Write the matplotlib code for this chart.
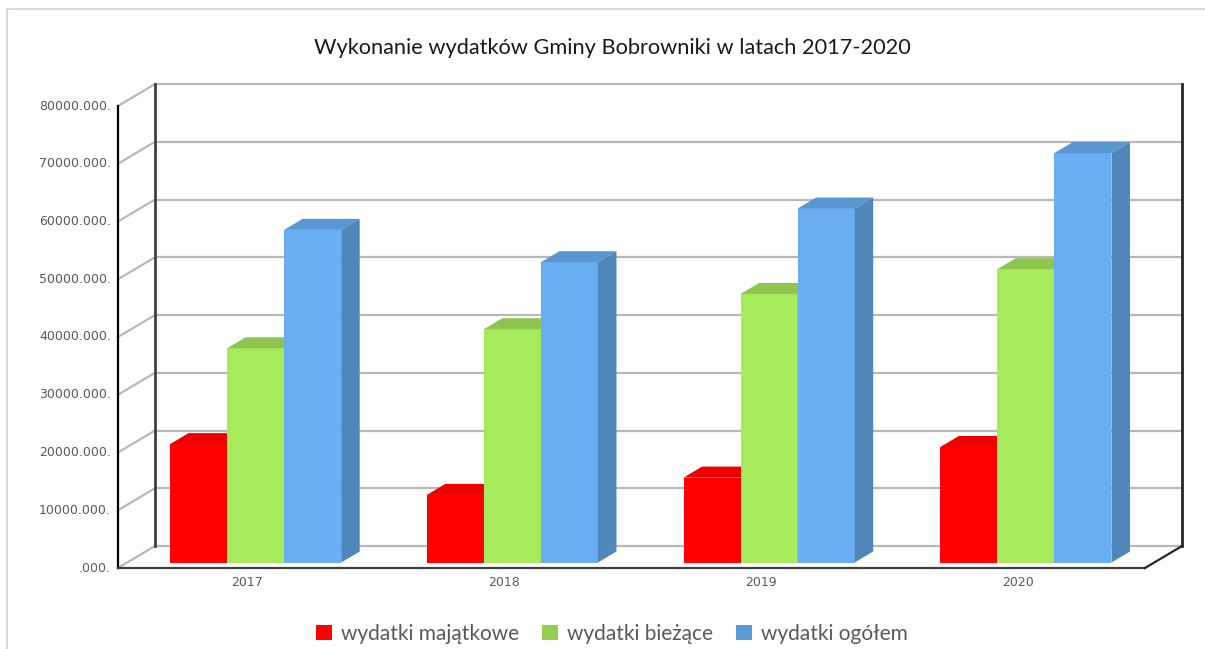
import matplotlib
matplotlib.use("Agg")
import matplotlib.pyplot as plt
from matplotlib.patches import Polygon, Patch
from matplotlib.lines import Line2D
from matplotlib.transforms import ScaledTranslation, IdentityTransform
import numpy as np

# ---------------- data ----------------
years = ["2017", "2018", "2019", "2020"]
series_names = ["wydatki majątkowe", "wydatki bieżące", "wydatki ogółem"]
wydatki_majatkowe = [20500000, 11700000, 14700000, 20000000]
wydatki_biezace = [37100000, 40400000, 46500000, 50800000]
wydatki_ogolem = [57600000, 52000000, 61300000, 70900000]
y_ticks = [0, 10000000, 20000000, 30000000, 40000000, 50000000, 60000000, 70000000, 80000000]
y_tick_labels = [".000.", "10000.000.", "20000.000.", "30000.000.", "40000.000.",
                 "50000.000.", "60000.000.", "70000.000.", "80000.000."]
title = "Wykonanie wydatków Gminy Bobrowniki w latach 2017-2020"

# ---------------- styles ----------------
front_colors = ["#FF0000", "#A6EB5B", "#69AEF2"]
top_colors = ["#EE0000", "#8DC54F", "#5A97D0"]
side_colors = ["#D00000", "#7FB245", "#4F87BB"]
legend_colors = ["#FF0000", "#92D050", "#5B9BD5"]
grid_color = "#B8B8B8"
text_color = "#595959"

W, H = 1205, 649
DPI = 100
fig = plt.figure(figsize=(W / DPI, H / DPI), dpi=DPI)
fig.patch.set_facecolor("white")

# front plane of the 3D box
ax = fig.add_axes([118 / W, (H - 568) / H, (1145 - 118) / W, (568 - 106) / H])
ax.set_xlim(-0.5, len(years) - 0.5)
ax.set_ylim(0, y_ticks[-1])
ax.axis("off")

DX, DY = 37, 22          # depth vector in pixels
F0, F1 = 0.25, 0.75      # bar depth range (fraction of box depth)


def off(f):
    return ax.transData + ScaledTranslation(f * DX / DPI, f * DY / DPI, fig.dpi_scale_trans)


def P(x, v, f):
    px, py = ax.transData.transform((x, v))
    return (px + f * DX, py + f * DY)


def dline(pts, **kw):
    xs, ys = zip(*pts)
    ln = Line2D(xs, ys, transform=IdentityTransform(), clip_on=False, **kw)
    ax.add_line(ln)


x_lo, x_hi = -0.5, len(years) - 0.5
ymax = y_ticks[-1]

# back wall gridlines + left wall diagonals
for t in y_ticks:
    ax.plot([x_lo, x_hi], [t, t], color=grid_color, lw=1.6, transform=off(1.0),
            clip_on=False, zorder=1, solid_capstyle="butt")
    dline([P(x_lo, t, 0), P(x_lo, t, 1)], color=grid_color, lw=1.6, zorder=1)

# axis / box edges
ax.plot([x_lo, x_lo], [0, ymax], color="#404040", lw=2, transform=off(1.0), clip_on=False, zorder=2)
ax.plot([x_hi, x_hi], [0, ymax], color="#262626", lw=2, transform=off(1.0), clip_on=False, zorder=2)
ax.plot([x_lo, x_lo], [0, ymax], color="#000000", lw=1.6, clip_on=False, zorder=2)
ax.plot([x_lo, x_hi], [0, 0], color="#404040", lw=1.6, clip_on=False, zorder=2)
dline([P(x_hi, 0, 0), P(x_hi, 0, 1)], color="#262626", lw=1.6, zorder=2)

# tick labels
for t, lab in zip(y_ticks, y_tick_labels):
    ax.annotate(lab, xy=(x_lo, t), xytext=(-7, 0), textcoords="offset pixels",
                ha="right", va="center", fontsize=9, color=text_color,
                annotation_clip=False)
for i, yr in enumerate(years):
    ax.annotate(yr, xy=(i, 0), xytext=(1, -15), textcoords="offset pixels",
                ha="center", va="center", fontsize=9, color=text_color,
                annotation_clip=False)

# bars
series = [wydatki_majatkowe, wydatki_biezace, wydatki_ogolem]
w = 1 / 4.5
for j, vals in enumerate(series):
    xs = np.arange(len(years)) - w + j * w
    bars = ax.bar(xs, vals, width=w, color=front_colors[j], edgecolor="none",
                  transform=off(F0), clip_on=False)
    for i, b in enumerate(bars):
        b.set_zorder(10 + i * 10 + j * 3)
for i in range(len(years)):
    for j, vals in enumerate(series):
        v = vals[i]
        x0 = i - 1.5 * w + j * w
        x1 = x0 + w
        z = 10 + i * 10 + j * 3
        top = Polygon([P(x0, v, F0), P(x1, v, F0), P(x1, v, F1), P(x0, v, F1)],
                      closed=True, facecolor=top_colors[j], edgecolor="none",
                      transform=IdentityTransform(), clip_on=False, zorder=z + 1)
        side = Polygon([P(x1, 0, F0), P(x1, v, F0), P(x1, v, F1), P(x1, 0, F1)],
                       closed=True, facecolor=side_colors[j], edgecolor="none",
                       transform=IdentityTransform(), clip_on=False, zorder=z + 2)
        ax.add_patch(top)
        ax.add_patch(side)

# outer chart frame (partially visible)
fig.add_artist(Line2D([7 / W, 7 / W], [0, 1 - 9 / H], transform=fig.transFigure,
                      color="#D9D9D9", lw=1.5))
fig.add_artist(Line2D([7 / W, 1], [1 - 9 / H, 1 - 9 / H], transform=fig.transFigure,
                      color="#D9D9D9", lw=1.5))

# title
fig.text(612 / W, 1 - 48 / H, title, ha="center", va="center", fontsize=15.7,
         family="Lato", color="#1A1A1A")

# legend
handles = [Patch(facecolor=c, edgecolor="none") for c in legend_colors]
fig.legend(handles, series_names, loc="center", bbox_to_anchor=(612 / W, 1 - 634 / H),
           ncol=3, frameon=False, prop={"family": "Lato", "size": 15},
           labelcolor=text_color, handlelength=0.75, handleheight=0.75,
           handletextpad=0.45, columnspacing=1.1, borderpad=0, borderaxespad=0)

fig.savefig("out.png", dpi=DPI, facecolor="white")
